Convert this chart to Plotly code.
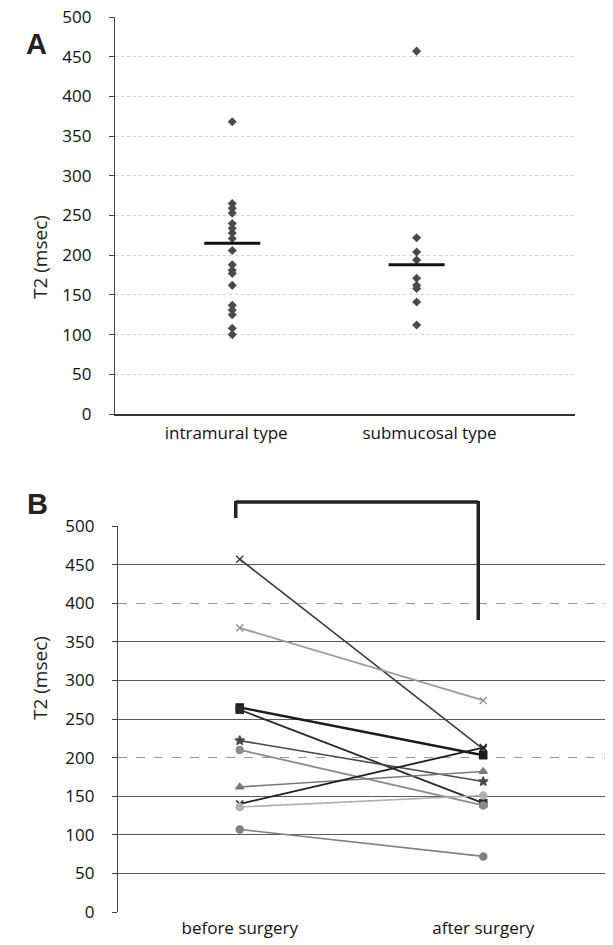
import plotly.graph_objects as go

# ---------------- data ----------------
groups = ["intramural type", "submucosal type"]
intramural = [368, 265, 259, 253, 240, 234, 228, 221, 206, 188, 181, 177, 162, 137, 131, 125, 108, 100]
submucosal = [457, 222, 204, 194, 171, 162, 158, 141, 112]
group_bars = [215, 188]

phases = ["before surgery", "after surgery"]
before = [457, 368, 265, 262, 222, 210, 162, 140, 136, 107]
after = [211, 274, 203, 141, 169, 138, 182, 213, 151, 72]

yticks = [0, 50, 100, 150, 200, 250, 300, 350, 400, 450, 500]

# ---------------- styles ----------------
W, H = 613, 945
def px(v): return v / W
def py(v): return 1 - v / H

line_colors = ["#3a3a3a", "#9a9a9a", "#1a1a1a", "#2a2a2a", "#4a4a4a",
               "#8a8a8a", "#7a7a7a", "#1e1e1e", "#b0b0b0", "#808080"]
line_widths = [1.6, 1.8, 2.4, 1.8, 1.6, 1.8, 1.6, 1.8, 1.6, 1.6]
line_markers = ["x-thin-open", "x-thin-open", "square", "square", "star", "circle",
                "triangle-up", "x-thin-open", "circle", "circle"]

FONT = "Open Sans"
fig = go.Figure()

# Panel A points
fig.add_trace(go.Scatter(x=[1] * len(intramural), y=intramural, mode="markers",
                         marker=dict(symbol="diamond", size=7, color="#4a4a4a"),
                         xaxis="x", yaxis="y", showlegend=False))
fig.add_trace(go.Scatter(x=[2] * len(submucosal), y=submucosal, mode="markers",
                         marker=dict(symbol="diamond", size=7, color="#4a4a4a"),
                         xaxis="x", yaxis="y", showlegend=False))
fig.add_trace(go.Scatter(x=[1, 2], y=group_bars, mode="markers",
                         marker=dict(symbol="line-ew-open", size=40, color="#111",
                                     line=dict(width=3, color="#111")),
                         xaxis="x", yaxis="y", showlegend=False))

# Panel B lines
for i in range(len(before)):
    fig.add_trace(go.Scatter(x=[1, 2], y=[before[i], after[i]], mode="lines+markers",
                             line=dict(color=line_colors[i], width=line_widths[i]),
                             marker=dict(symbol=line_markers[i], size=7, color=line_colors[i],
                                         line=dict(width=1.5, color=line_colors[i])),
                             xaxis="x2", yaxis="y2", showlegend=False))

# bracket in panel B
bx0 = 0.5 + (236 - 118) / 244
bx1 = 0.5 + (479 - 118) / 244
for (x0, y0, x1, y1) in [(bx0, 518, bx0, 501), (bx0, 502, bx1, 502), (bx1, 501, bx1, 620)]:
    fig.add_shape(type="line", xref="x2", yref="paper", x0=x0, x1=x1, y0=py(y0), y1=py(y1),
                  line=dict(color="#222", width=3.5))

tickfont = dict(family=FONT, size=17, color="#111")

fig.update_layout(
    width=W, height=H, margin=dict(l=0, r=0, t=0, b=0),
    paper_bgcolor="white", plot_bgcolor="white",
    font=dict(family=FONT, color="#222"),
    xaxis=dict(domain=[px(115), px(575)], anchor="y", range=[0.364, 2.859],
               tickmode="array", tickvals=[0.967, 2.07], ticktext=groups,
               showgrid=False, zeroline=False, showline=True, linecolor="#333", linewidth=1.5,
               ticks="", tickfont=tickfont, ticklabelstandoff=3, automargin=False),
    yaxis=dict(domain=[py(414), py(17)], anchor="x", range=[0, 500],
               tickmode="array", tickvals=yticks,
               showgrid=True, gridcolor="#d2d2d2", griddash="dot", gridwidth=1,
               zeroline=False, showline=True, linecolor="#444", linewidth=1.2,
               ticks="outside", ticklen=5, tickcolor="#444",
               tickfont=tickfont, ticklabelstandoff=14, automargin=False),
    xaxis2=dict(domain=[px(118), px(605)], anchor="y2", range=[0.5, 2.5],
                tickmode="array", tickvals=[1, 2], ticktext=phases,
                showgrid=False, zeroline=False, showline=False,
                ticks="", tickfont=tickfont, ticklabelstandoff=4, automargin=False),
    yaxis2=dict(domain=[py(912), py(526)], anchor="x2", range=[0, 500],
                tickmode="array", tickvals=yticks,
                showgrid=False, zeroline=False, showline=True, linecolor="#444", linewidth=1.2,
                ticks="outside", ticklen=5, tickcolor="#444",
                tickfont=tickfont, ticklabelstandoff=14, automargin=False),
    yaxis3=dict(overlaying="y2", anchor="x2", range=[0, 500],
                tickmode="array", tickvals=[50, 100, 150, 250, 300, 350, 450, 500],
                showticklabels=False, showgrid=True, gridcolor="#5a5a5a", gridwidth=1,
                zeroline=False, showline=False, ticks=""),
    yaxis4=dict(overlaying="y2", anchor="x2", range=[0, 500],
                tickmode="array", tickvals=[0, 200, 400],
                showticklabels=False, showgrid=True, gridcolor="#999", gridwidth=1,
                griddash="dash", zeroline=False, showline=False, ticks=""),
    annotations=[
        dict(text="<b>A</b>", x=px(24), y=py(26), xref="paper", yref="paper", showarrow=False,
             font=dict(family="Liberation Sans", size=29, color="#222")),
        dict(text="<b>B</b>", x=px(25), y=py(504), xref="paper", yref="paper", showarrow=False,
             font=dict(family="Liberation Sans", size=29, color="#222")),
        dict(text="T2 (msec)", x=px(25), y=py(213), xref="paper", yref="paper", showarrow=False,
             textangle=-90, font=dict(family=FONT, size=19, color="#222")),
        dict(text="T2 (msec)", x=px(25), y=py(722), xref="paper", yref="paper", showarrow=False,
             textangle=-90, font=dict(family=FONT, size=19, color="#222")),
    ],
)

# dummy traces so overlay axes render their grids
fig.add_trace(go.Scatter(x=[None], y=[None], xaxis="x2", yaxis="y3", showlegend=False, hoverinfo="skip"))
fig.add_trace(go.Scatter(x=[None], y=[None], xaxis="x2", yaxis="y4", showlegend=False, hoverinfo="skip"))

fig.write_html("out.html", config={"displayModeBar": False},
               post_script="document.body.style.margin='0';document.body.style.overflow='hidden';")
